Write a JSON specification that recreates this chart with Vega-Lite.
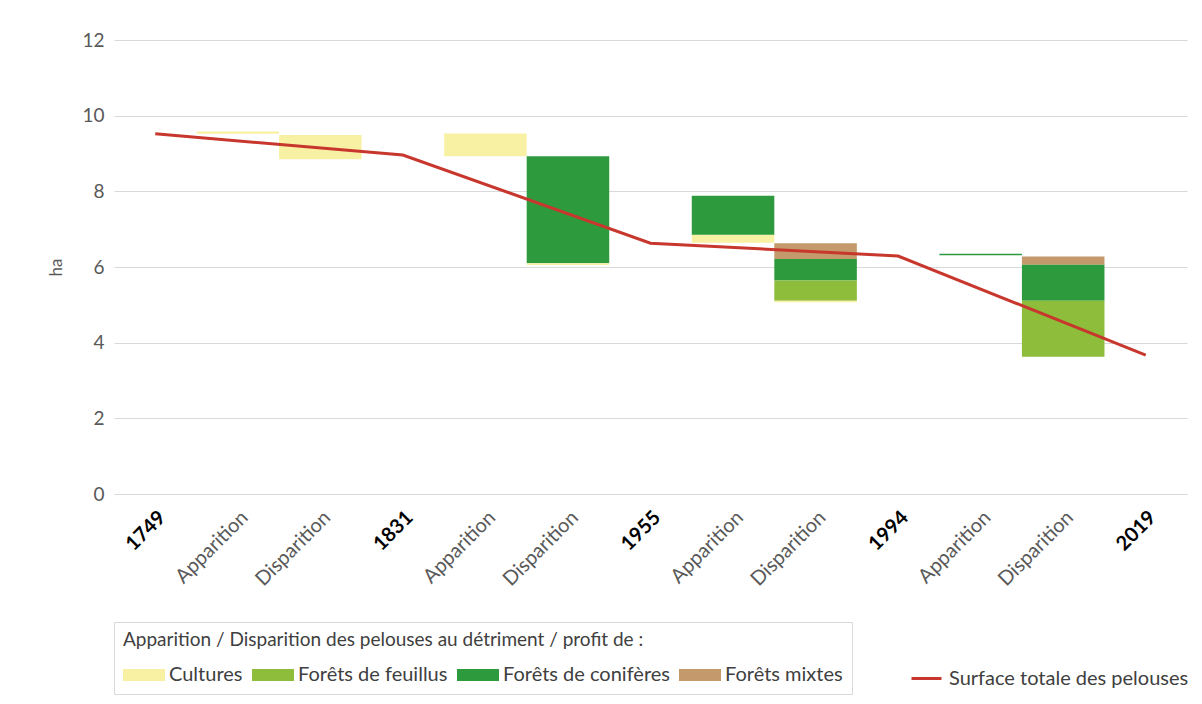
{
  "$schema": "https://vega.github.io/schema/vega-lite/v6.json",
  "width": 1073,
  "height": 454,
  "autosize": "none",
  "padding": {"left": 114, "top": 40, "right": 15, "bottom": 210},
  "background": "white",
  "config": {
    "font": "Lato",
    "view": {"stroke": null},
    "axis": {"labelFont": "Lato", "titleFont": "Lato"},
    "legend": {"labelFont": "Lato", "titleFont": "Lato"}
  },
  "datasets": {
    "bars": [
      {"cat": "A1", "type": "Cultures", "lo": 9.52, "hi": 9.58},
      {"cat": "D1", "type": "Cultures", "lo": 8.85, "hi": 9.49},
      {"cat": "A2", "type": "Cultures", "lo": 8.93, "hi": 9.53},
      {"cat": "D2", "type": "Forêts de conifères", "lo": 6.10, "hi": 8.93},
      {"cat": "D2", "type": "Cultures", "lo": 6.05, "hi": 6.10},
      {"cat": "A3", "type": "Cultures", "lo": 6.64, "hi": 6.85},
      {"cat": "A3", "type": "Forêts de conifères", "lo": 6.85, "hi": 7.88},
      {"cat": "D3", "type": "Forêts mixtes", "lo": 6.21, "hi": 6.63},
      {"cat": "D3", "type": "Forêts de conifères", "lo": 5.64, "hi": 6.21},
      {"cat": "D3", "type": "Forêts de feuillus", "lo": 5.11, "hi": 5.64},
      {"cat": "D3", "type": "Cultures", "lo": 5.07, "hi": 5.11},
      {"cat": "A4", "type": "Forêts de conifères", "lo": 6.31, "hi": 6.35},
      {"cat": "D4", "type": "Forêts mixtes", "lo": 6.06, "hi": 6.28},
      {"cat": "D4", "type": "Forêts de conifères", "lo": 5.11, "hi": 6.06},
      {"cat": "D4", "type": "Forêts de feuillus", "lo": 3.63, "hi": 5.11}
    ],
    "line": [
      {"cat": "1749", "value": 9.52},
      {"cat": "1831", "value": 8.96},
      {"cat": "1955", "value": 6.63},
      {"cat": "1994", "value": 6.29},
      {"cat": "2019", "value": 3.67}
    ]
  },
  "encoding": {
    "x": {
      "field": "cat",
      "type": "nominal",
      "sort": ["1749","A1","D1","1831","A2","D2","1955","A3","D3","1994","A4","D4","2019"],
      "scale": {"domain": ["1749","A1","D1","1831","A2","D2","1955","A3","D3","1994","A4","D4","2019"], "paddingInner": 0, "paddingOuter": 0},
      "axis": {
        "title": null,
        "labelAngle": -45,
        "labelFontSize": 20,
        "labelPadding": 13,
        "labelLimit": 200,
        "ticks": false,
        "domainColor": "#d9d9d9",
        "labelExpr": "test(/^A/, datum.value) ? 'Apparition' : (test(/^D/, datum.value) ? 'Disparition' : datum.value)",
        "labelColor": {"condition": {"test": "test(/^[AD]/, datum.value)", "value": "#595959"}, "value": "#000000"},
        "labelFontWeight": {"condition": {"test": "test(/^[AD]/, datum.value)", "value": "normal"}, "value": "bold"}
      }
    }
  },
  "layer": [
    {
      "data": {"name": "bars"},
      "mark": {"type": "bar"},
      "encoding": {
        "y": {
          "field": "lo",
          "type": "quantitative",
          "scale": {"domain": [0, 12]},
          "axis": {
            "title": "ha",
            "titleFontSize": 17,
            "titleFontWeight": "normal",
            "titleColor": "#595959",
            "titlePadding": 16,
            "values": [0, 2, 4, 6, 8, 10, 12],
            "labelFontSize": 19,
            "labelColor": "#595959",
            "labelPadding": 10,
            "ticks": false,
            "domain": false,
            "gridColor": "#d9d9d9"
          }
        },
        "y2": {"field": "hi"},
        "fill": {
          "field": "type",
          "type": "nominal",
          "scale": {
            "domain": ["Cultures", "Forêts de feuillus", "Forêts de conifères", "Forêts mixtes"],
            "range": ["#f8f1a4", "#8dbd3a", "#2e9a3e", "#c49a6c"]
          },
          "legend": {
            "orient": "none",
            "legendX": 0,
            "legendY": 582,
            "direction": "horizontal",
            "columns": 4,
            "title": "Apparition / Disparition des pelouses au détriment / profit de :",
            "titleFontSize": 19,
            "titleFontWeight": "normal",
            "titleColor": "#404040",
            "titlePadding": 15,
            "titleLimit": 900,
            "labelFontSize": 20,
            "labelColor": "#404040",
            "labelOffset": 26,
            "labelLimit": 400,
            "columnPadding": 9,
            "symbolType": "M-1,-0.6H3.2V0.6H-1Z",
            "symbolSize": 400,
            "symbolStrokeWidth": 0,
            "padding": 9,
            "strokeColor": "#d9d9d9"
          }
        }
      }
    },
    {
      "data": {"name": "line"},
      "mark": {"type": "line", "strokeWidth": 3},
      "encoding": {
        "y": {"field": "value", "type": "quantitative"},
        "stroke": {
          "datum": "Surface totale des pelouses",
          "scale": {"range": ["#c8372d"]},
          "legend": {
            "orient": "none",
            "legendX": 796,
            "legendY": 622,
            "title": null,
            "labelFontSize": 20,
            "labelColor": "#404040",
            "labelOffset": 6,
            "labelLimit": 400,
            "symbolType": "stroke",
            "symbolSize": 900,
            "symbolStrokeWidth": 3,
            "padding": 0
          }
        }
      }
    }
  ]
}
